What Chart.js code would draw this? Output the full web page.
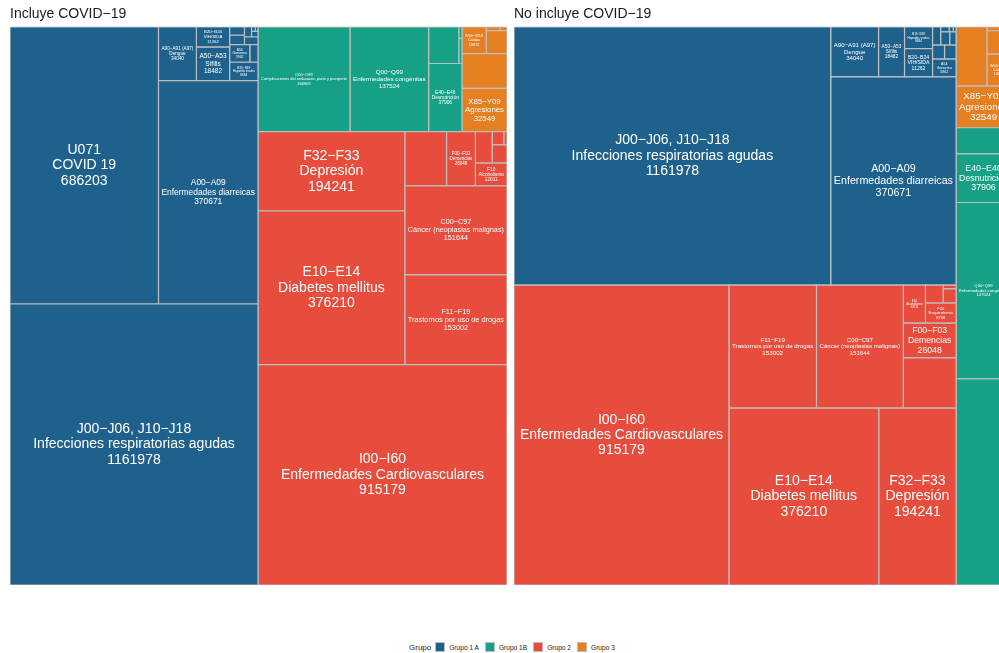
<!DOCTYPE html>
<html>
<head>
<meta charset="utf-8">
<script src="https://cdn.jsdelivr.net/npm/chart.js@4.4.1/dist/chart.umd.min.js"></script>
<style>
html, body { margin: 0; padding: 0; background: #fff; }
body { width: 999px; height: 653px; overflow: hidden; position: relative; font-family: "Liberation Sans", Arial, sans-serif; }
canvas { position: absolute; top: 0; }
#left { left: 0; }
#right { left: 504px; }
#legend { position: absolute; left: 409px; top: 641px; height: 12px; display: flex; align-items: center; color: #1a1a1a; white-space: nowrap; }
#legend .ttl { font-size: 8px; margin-right: 4px; }
#legend .key { width: 8px; height: 8px; border: 1px solid #bebebe; margin-right: 4px; }
#legend .lab { font-size: 6.6px; margin-right: 6px; }
</style>
</head>
<body>
<canvas id="left" width="511" height="600"></canvas>
<canvas id="right" width="517" height="600"></canvas>
<div id="legend"></div>
<script>
// one entry per cause; empty code = label not readable in the source (too small to be printed)
const codes = [
  "J00\u2212J06, J10\u2212J18", "U071", "A00\u2212A09", "A90\u2212A91 (A97)", "A50\u2212A53", "B20\u2212B24", "B15\u2212B19", "A54",
  "", "", "", "", "", "", "", "",
  "I00\u2212I60", "E10\u2212E14", "F32\u2212F33", "F11\u2212F19", "C00\u2212C97", "", "F00\u2212F03", "F10", "F20", "", "", "",
  "O00\u2212O99", "Q00\u2212Q99", "E40\u2212E46", "", "", "",
  "X85\u2212Y09", "", "W00\u2212W19", "", "", ""
];
const names = [
  "Infecciones respiratorias agudas", "COVID 19", "Enfermedades diarreicas", "Dengue", "S\u00edfilis", "VIH/SIDA", "Hepatitis virales", "Gonorrea",
  "", "", "", "", "", "", "", "",
  "Enfermedades Cardiovasculares", "Diabetes mellitus", "Depresi\u00f3n", "Trastornos por uso de drogas", "C\u00e1ncer (neoplasias malignas)", "", "Demencias", "Alcoholismo", "Esquizofrenia", "", "", "",
  "Complicaciones del embarazo, parto y puerperio", "Enfermedades cong\u00e9nitas", "Desnutrici\u00f3n", "", "", "",
  "Agresiones", "", "Ca\u00eddas", "", "", ""
];
const values = [
  1161978, 686203, 370671, 34040, 18482, 11262, 8684, 5962,
  2400, 2300, 2100, 1700, 1200, 600, 300, 200,
  915179, 376210, 194241, 153002, 151644, 37700, 26048, 12011, 8768, 4500, 2600, 700,
  160865, 137524, 37906, 18500, 1300, 600,
  32549, 26000, 10872, 8000, 900, 450
];
const groups = [
  0, 0, 0, 0, 0, 0, 0, 0,
  0, 0, 0, 0, 0, 0, 0, 0,
  2, 2, 2, 2, 2, 2, 2, 2, 2, 2, 2, 2,
  1, 1, 1, 1, 1, 1,
  3, 3, 3, 3, 3, 3
];
const groupNames = ["Grupo 1 A", "Grupo 1B", "Grupo 2", "Grupo 3"];
const panelTitles = ["Incluye COVID\u221219", "No incluye COVID\u221219"];
const covidCode = "U071";

const groupColors = ["#1F618D", "#16A085", "#E74C3C", "#E67E22"];
const borderCol = "#bebebe";
const fontFam = '"Liberation Sans", Arial, sans-serif';

// squarified layout, y up, rows start at bottom-left like treemapify
function worst(row, side) {
  const s = row.reduce((a, b) => a + b, 0);
  let w = 0;
  for (const a of row) {
    w = Math.max(w, side * side * a / (s * s), s * s / (side * side * a));
  }
  return w;
}

function squarify(vals, x0, y0, w, h) {
  const total = vals.reduce((a, b) => a + b, 0);
  const areas = vals.map(v => v * w * h / total);
  const out = [];
  let i = 0;
  while (i < areas.length) {
    const vertical = w >= h;
    const side = vertical ? h : w;
    let row = [areas[i]];
    let cur = worst(row, side);
    let j = i + 1;
    while (j < areas.length) {
      const next = row.concat(areas[j]);
      const wn = worst(next, side);
      if (wn <= cur) { row = next; cur = wn; j++; } else break;
    }
    const thick = row.reduce((a, b) => a + b, 0) / side;
    let off = 0;
    for (const a of row) {
      const len = a / thick;
      if (vertical) out.push({x0: x0, y0: y0 + off, x1: x0 + thick, y1: y0 + off + len});
      else out.push({x0: x0 + off, y0: y0, x1: x0 + off + len, y1: y0 + thick});
      off += len;
    }
    if (vertical) { x0 += thick; w -= thick; } else { y0 += thick; h -= thick; }
    i = j;
  }
  return out;
}

function buildDatasets(withCovid) {
  const idx = values.map((v, i) => i).filter(i => withCovid || codes[i] !== covidCode);
  const gTot = groupNames.map((g, k) => idx.filter(i => groups[i] === k).reduce((a, i) => a + values[i], 0));
  const gOrder = [0, 1, 2, 3].sort((a, b) => gTot[b] - gTot[a]);
  const gRects = squarify(gOrder.map(k => gTot[k]), 0, 0, 1, 1);
  const datasets = [];
  gOrder.forEach((k, gi) => {
    const r = gRects[gi];
    const items = idx.filter(i => groups[i] === k).sort((a, b) => values[b] - values[a]);
    const rects = squarify(items.map(i => values[i]), r.x0, r.y0, r.x1 - r.x0, r.y1 - r.y0);
    items.forEach((i, n) => {
      const q = rects[n];
      datasets.push({
        label: codes[i],
        data: [{x: q.x0, y: q.y0}, {x: q.x1, y: q.y0}, {x: q.x1, y: q.y1}, {x: q.x0, y: q.y1}, {x: q.x0, y: q.y0}],
        backgroundColor: groupColors[k],
        borderColor: borderCol,
        borderWidth: 1.2,
        borderJoinStyle: 'miter',
        fill: 'shape',
        pointRadius: 0,
        tension: 0,
        lab: codes[i] ? [codes[i], names[i], String(values[i])] : null
      });
    });
  });
  return datasets;
}

const boxLabels = {
  id: 'boxLabels',
  afterDatasetsDraw(chart) {
    const ctx = chart.ctx;
    const xs = chart.scales.x, ys = chart.scales.y;
    const pad = 3;
    ctx.save();
    ctx.fillStyle = '#ffffff';
    ctx.textAlign = 'center';
    ctx.textBaseline = 'middle';
    chart.data.datasets.forEach(ds => {
      if (!ds.lab) return;
      const p = ds.data;
      const l = xs.getPixelForValue(p[0].x), r = xs.getPixelForValue(p[1].x);
      const b = ys.getPixelForValue(p[0].y), t = ys.getPixelForValue(p[2].y);
      const w = r - l - 2 * pad, h = b - t - 2 * pad;
      ctx.font = '100px ' + fontFam;
      const mw = Math.max(...ds.lab.map(s => ctx.measureText(s).width)) / 100;
      let size = Math.min(14, w / mw, h / (ds.lab.length * 1.1));
      if (size < 2.6) return;
      ctx.font = size + 'px ' + fontFam;
      const cx = (l + r) / 2, cy = (t + b) / 2;
      ds.lab.forEach((s, k) => {
        ctx.fillText(s, cx, cy + (k - (ds.lab.length - 1) / 2) * size * 1.1);
      });
    });
    ctx.restore();
  }
};

function makePanel(id, title, withCovid) {
  return new Chart(document.getElementById(id), {
    type: 'line',
    data: { datasets: buildDatasets(withCovid) },
    options: {
      responsive: false,
      animation: false,
      events: [],
      layout: { padding: { left: 10, right: id === 'left' ? 4 : 10, top: 0, bottom: 15 } },
      scales: {
        x: { type: 'linear', min: 0, max: 1, display: false },
        y: { type: 'linear', min: 0, max: 1, display: false }
      },
      plugins: {
        legend: { display: false },
        tooltip: { enabled: false },
        title: {
          display: true,
          text: title,
          align: 'start',
          color: '#1a1a1a',
          font: { family: fontFam, size: 14, weight: 'normal' },
          padding: { top: 6, bottom: 4 }
        }
      }
    },
    plugins: [boxLabels]
  });
}

makePanel('left', panelTitles[0], true);
makePanel('right', panelTitles[1], false);

// legend
const leg = document.getElementById('legend');
leg.innerHTML = '<span class="ttl">Grupo</span>' + groupNames.map((g, k) =>
  '<span class="key" style="background:' + groupColors[k] + '"></span><span class="lab">' + g + '</span>').join('');
</script>
</body>
</html>
